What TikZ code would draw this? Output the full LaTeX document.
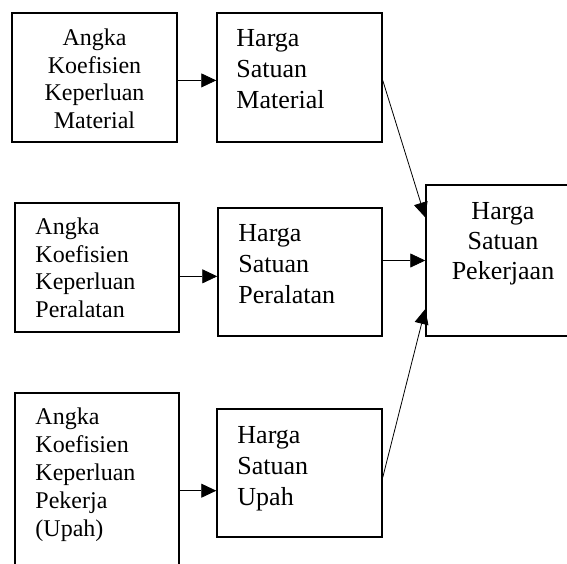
\documentclass[tikz,border=0pt]{standalone}
\usepackage{fontspec}
\setmainfont{Liberation Serif}
\usetikzlibrary{arrows.meta}
\usetikzlibrary{positioning}
\tikzset{blk/.style = {draw, line width=1.5pt, inner sep=0,
                       minimum width=165pt, minimum height=129pt}}
\tikzset{lbl/.style = {inner sep=0, align=left,
                       font=\fontsize{26}{#1}\selectfont},
         lbl/.default = 31}
\tikzset{flow/.style = {line width=0.8pt, -{Triangle[length=15pt, width=14pt]}}}

\begin{document}
\begin{tikzpicture}[x=1pt, y=-1pt]
    \useasboundingbox (0, 0) rectangle (567, 563);
    \clip (0, 0) rectangle (567, 563);

    % angka koefisien
    \node [blk] (a1) at (94.5, 77.5) {};
    \node [blk, minimum width=164pt] (a2) at (97, 267.5) {};
    \node [blk, minimum width=164pt, minimum height=230pt] (a3) at (97, 508) {};
    \node [lbl=27.5, align=center, font=\fontsize{24}{27.5}\selectfont,
           below=16.6pt of a1.north] (ta1)
      {Angka\\Koefisien\\Keperluan\\Material};
    \node [lbl=27.5, font=\fontsize{24}{27.5}\selectfont,
           below right=15.6pt and 21pt of a2.north west] (ta2)
      {Angka\\Koefisien\\Keperluan\\Peralatan};
    \node [lbl=28, font=\fontsize{24}{28}\selectfont,
           below right=15.6pt and 21pt of a3.north west] (ta3)
      {Angka\\Koefisien\\Keperluan\\Pekerja\\(Upah)};

    % harga satuan
    \node [blk] (h1) at (299.5, 77.5) {};
    \node [blk, minimum width=164pt, minimum height=128pt] (h2) at (300, 272) {};
    \node [blk, minimum height=128pt] (h3) at (299.5, 473) {};
    \node [lbl, below right=16.8pt and 20pt of h1.north west] (th1)
      {Harga\\Satuan\\Material};
    \node [lbl, below right=17.5pt and 21pt of h2.north west] (th2)
      {Harga\\Satuan\\Peralatan};
    \node [lbl, below right=17.8pt and 21pt of h3.north west] (th3)
      {Harga\\Satuan\\Upah};

    % harga satuan pekerjaan
    \node [blk, minimum width=154pt, minimum height=151pt] (p) at (503, 260.5) {};
    \node [lbl=30, align=center, below=17.8pt of p.north] (tp)
      {Harga\\Satuan\\Pekerjaan};

    \draw [flow] (a1.east |- h1.-178) -- (h1.-178);
    \draw [flow] (a2.east |- h2.-177) -- (h2.-177);
    \draw [flow] (a3.east |- h3.-168) -- (h3.-168);
    \draw [flow] (h1.-2) -- (p.151);
    \draw [flow] (h2.east |- p.west) -- (p.west);
    \draw [flow] (h3.-3) -- (p.-148);
\end{tikzpicture}
\end{document}
